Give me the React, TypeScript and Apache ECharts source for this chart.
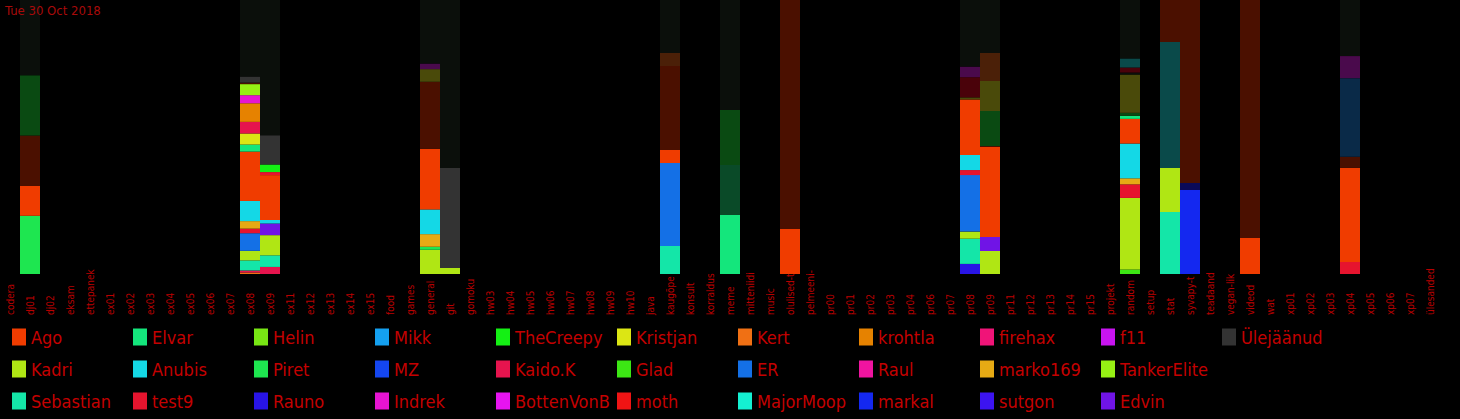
import React, { useEffect, useRef } from "react";
import * as echarts from "echarts";

const FONT = "'DejaVu Sans Condensed', 'Liberation Sans', sans-serif";

const titleText = "Tue 30 Oct 2018";

const categories = [
  "codera", "dj01", "dj02", "eksam", "ettepanek", "ex01", "ex02", "ex03", "ex04", "ex05",
  "ex06", "ex07", "ex08", "ex09", "ex11", "ex12", "ex13", "ex14", "ex15", "food",
  "games", "general", "git", "gomoku", "hw03", "hw04", "hw05", "hw06", "hw07", "hw08",
  "hw09", "hw10", "java", "kaugõpe", "konsult", "korraldus", "meme", "mitteniidi", "music", "olulised-t",
  "pelmeeni-", "pr00", "pr01", "pr02", "pr03", "pr04", "pr06", "pr07", "pr08", "pr09",
  "pr11", "pr12", "pr13", "pr14", "pr15", "projekt", "random", "setup", "stat", "syvapy-t",
  "teadaand", "vegan-lik", "videod", "wat", "xp01", "xp02", "xp03", "xp04", "xp05", "xp06",
  "xp07", "ülesanded",
];

const legendUsers = [
  "Ago", "Kadri", "Sebastian", "Elvar", "Anubis", "test9", "Helin", "Piret", "Rauno",
  "Mikk", "MZ", "Indrek", "TheCreepySh", "Kaido.K", "BottenVonBot", "Kristjan", "Glad", "moth",
  "Kert", "ER", "MajorMoopsy", "krohtla", "Raul", "markal", "firehax", "marko169", "sutgon",
  "f11", "TankerElite", "Edvin", "Ülejäänud",
];

// segments of each bar, bottom to top: [who, share]
type Seg = [string, number];
const dj01: Seg[] = [["Piret", 58], ["Ago", 30], ["dAgo", 50], ["dPiret", 60], ["dRest", 75]];
const ex08: Seg[] = [["Kert", 1.5], ["Kaido.K", 2], ["Sebastian", 10], ["Kadri", 9.5], ["ER", 17.5], ["test9", 4.5], ["marko169", 7.5], ["Anubis", 20], ["Ago", 49], ["Elvar", 7], ["Kristjan", 11], ["Kaido.K", 11.5], ["krohtla", 18.5], ["Indrek", 8], ["TankerElite", 11], ["dAgo", 1.5], ["Ülejäänud", 6], ["dRest", 76]];
const ex09: Seg[] = [["Kaido.K", 7], ["Sebastian", 11.5], ["Kadri", 20], ["Edvin", 11.5], ["Anubis", 3.5], ["Ago", 44.5], ["test9", 3], ["TheCreepySh", 7.5], ["Ülejäänud", 29], ["dRest", 134]];
const general: Seg[] = [["Kadri", 24], ["Piret", 3], ["marko169", 12.5], ["Anubis", 24.5], ["Ago", 60], ["dAgo", 66.5], ["dOlive", 12.5], ["dPurple", 5.5], ["dRest", 63]];
const git: Seg[] = [["Kadri", 6], ["Ülejäänud", 100], ["dRest", 168]];
const kaugope: Seg[] = [["Sebastian", 28], ["ER", 83], ["Ago", 13], ["dAgo", 84], ["dBrown", 13], ["dRest", 53]];
const meme: Seg[] = [["Elvar", 59], ["dElvar", 50], ["dPiret", 55], ["dRest", 110]];
const olulised: Seg[] = [["Ago", 45], ["dAgo", 229]];
const pr08: Seg[] = [["Rauno", 10], ["Sebastian", 25], ["Kadri", 7], ["ER", 56], ["test9", 5], ["Anubis", 15], ["Ago", 55], ["dOlive", 2], ["dMaroon", 20], ["dPurple", 10.5], ["dRest", 66]];
const pr09: Seg[] = [["Kadri", 23], ["Edvin", 14], ["Ago", 90], ["dAgo", 1], ["dPiret", 35], ["dOlive", 30], ["dBrown", 28], ["dRest", 53]];
const random: Seg[] = [["Glad", 4.5], ["Kadri", 71], ["test9", 13.5], ["marko169", 6], ["Anubis", 34.5], ["Ago", 24.5], ["Elvar", 3], ["dPiret", 3], ["dOlive", 38], ["dRest", 2], ["dMaroon", 5], ["dTeal", 9], ["dRest", 58]];
const stat: Seg[] = [["Sebastian", 62], ["Kadri", 44], ["dTeal", 126], ["dAgo", 42]];
const syvapy: Seg[] = [["markal", 84], ["dNavy", 7], ["dAgo", 183]];
const videod: Seg[] = [["Ago", 36], ["dAgo", 238]];
const xp04: Seg[] = [["test9", 12], ["Ago", 94], ["dAgo", 11], ["dBlue", 78.5], ["dPurple", 22], ["dRest", 56]];

const barsByCategory: [string, Seg[]][] = [
  ["dj01", dj01], ["ex08", ex08], ["ex09", ex09], ["general", general], ["git", git],
  ["kaugõpe", kaugope], ["meme", meme], ["olulised-t", olulised], ["pr08", pr08], ["pr09", pr09],
  ["random", random], ["stat", stat], ["syvapy-t", syvapy], ["videod", videod], ["xp04", xp04],
];

const colors: Record<string, string> = {
  Ago: "#f03c00", Kadri: "#b0e614", Sebastian: "#14e6a8", Elvar: "#14e67c", Anubis: "#14d8e6",
  test9: "#e6142e", Helin: "#78e614", Piret: "#1ee650", Rauno: "#2814e6", Mikk: "#14a0f0",
  MZ: "#1446f0", Indrek: "#e614d2", TheCreepySh: "#14f014", "Kaido.K": "#e6144e", BottenVonBot: "#e614f0",
  Kristjan: "#dce614", Glad: "#3ce614", moth: "#f01414", Kert: "#f07014", ER: "#1470e6",
  MajorMoopsy: "#14f0d2", krohtla: "#e68200", Raul: "#f014a0", markal: "#1428f0", firehax: "#f01478",
  marko169: "#e6aa14", sutgon: "#3c14f0", f11: "#c814f0", TankerElite: "#96f014", Edvin: "#7014e6",
  "Ülejäänud": "#333333",
  dRest: "#0b0f0b", dAgo: "#4b1000", dPiret: "#0a4a12", dElvar: "#0a4a28", dPurple: "#4a0a4c",
  dOlive: "#4a4a0a", dBrown: "#4b2008", dMaroon: "#4a020a", dTeal: "#0a4a4a", dNavy: "#0a0a58",
  dBlue: "#0a2a48",
};

function buildOption() {
  const byCat = new Map(barsByCategory);
  const maxLayers = Math.max(...barsByCategory.map(([, s]) => s.length));
  const layerSeries: any[] = [];
  for (let k = 0; k < maxLayers; k++) {
    layerSeries.push({
      type: "bar",
      name: "layer" + k,
      stack: "all",
      barCategoryGap: "0%",
      emphasis: { disabled: true },
      data: categories.map((c) => {
        const segs = byCat.get(c);
        if (!segs || !segs[k]) return "-";
        const total = segs.reduce((a, s) => a + s[1], 0);
        return { value: (segs[k][1] / total) * 100, itemStyle: { color: colors[segs[k][0]] } };
      }),
    });
  }
  const legendSeries = legendUsers.map((u) => ({
    type: "bar",
    name: u,
    stack: "all",
    barCategoryGap: "0%",
    data: [],
    itemStyle: { color: colors[u] },
  }));
  return {
    animation: false,
    backgroundColor: "#000000",
    title: {
      text: titleText,
      left: 0,
      top: 0,
      padding: [4, 5],
      textStyle: { color: "#a80a0a", fontSize: 13, fontWeight: "normal", fontFamily: FONT },
    },
    legend: {
      data: legendUsers,
      orient: "vertical",
      left: 12,
      top: 324,
      height: 96,
      padding: 0,
      itemGap: 6,
      itemWidth: 14,
      itemHeight: 17,
      icon: "rect",
      selectedMode: false,
      textStyle: {
        color: "#c40000",
        fontSize: 18,
        lineHeight: 26,
        fontFamily: FONT,
        width: 96,
        overflow: "truncate",
        ellipsis: "",
      },
    },
    grid: { left: 0, right: 20, top: 0, bottom: 145, containLabel: false },
    xAxis: {
      type: "category",
      data: categories,
      axisLine: { show: false },
      axisTick: { show: false },
      axisLabel: {
        interval: 0,
        rotate: 90,
        align: "left",
        margin: 41,
        color: "#b80000",
        fontSize: 10,
        fontFamily: FONT,
      },
    },
    yAxis: { type: "value", min: 0, max: 100, show: false },
    series: [...layerSeries, ...legendSeries],
  };
}

export default function App() {
  const ref = useRef<HTMLDivElement>(null);
  useEffect(() => {
    if (!ref.current) return;
    const chart = echarts.init(ref.current, undefined, { renderer: "svg" });
    chart.setOption(buildOption() as any);
    return () => chart.dispose();
  }, []);
  return (
    <div
      ref={ref}
      style={{ position: "fixed", left: 0, top: 0, width: 1460, height: 419, background: "#000" }}
    />
  );
}
